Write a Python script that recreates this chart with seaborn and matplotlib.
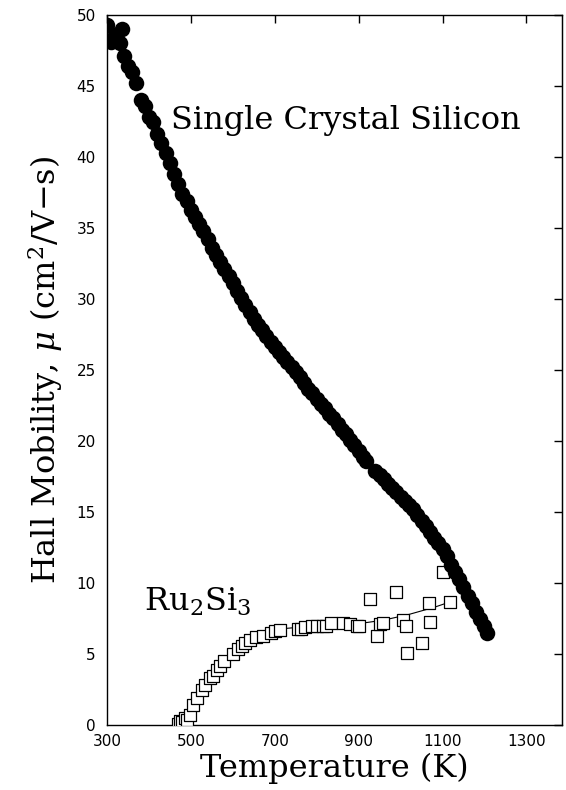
import numpy as np
import pandas as pd
from matplotlib import pyplot as plt
import seaborn as sns

# Single crystal silicon (filled circles)
si_temp = [300, 310, 320, 330, 336, 340, 350, 360, 370, 380, 390, 400, 410, 420, 430,
           440, 450, 460, 470, 480, 490, 500, 510, 520, 530, 540, 550, 560, 570, 580,
           590, 600, 610, 620, 630, 640, 650, 660, 670, 680, 690, 700, 710, 720, 730,
           740, 750, 760, 770, 780, 790, 800, 810, 820, 830, 840, 850, 860, 870, 880,
           890, 900, 910, 918, 940, 950, 960, 970, 980, 990, 1000, 1010, 1020, 1030,
           1040, 1050, 1060, 1070, 1080, 1090, 1100, 1110, 1120, 1130, 1140, 1150,
           1160, 1170, 1180, 1190, 1200, 1205]
si_mu = [49.3, 48.1, 48.6, 48.0, 49.0, 47.1, 46.4, 46.0, 45.2, 44.0, 43.6, 42.8, 42.5,
         41.6, 41.0, 40.3, 39.6, 38.8, 38.1, 37.4, 36.9, 36.3, 35.8, 35.3, 34.8, 34.2,
         33.6, 33.1, 32.6, 32.1, 31.6, 31.1, 30.6, 30.1, 29.6, 29.1, 28.6, 28.2, 27.8,
         27.4, 27.0, 26.6, 26.3, 25.9, 25.6, 25.2, 24.9, 24.5, 24.1, 23.7, 23.4, 23.0,
         22.6, 22.3, 21.9, 21.6, 21.2, 20.8, 20.5, 20.1, 19.7, 19.3, 18.9, 18.6, 17.9,
         17.6, 17.3, 17.0, 16.7, 16.4, 16.1, 15.8, 15.5, 15.2, 14.8, 14.4, 14.0, 13.6,
         13.2, 12.8, 12.4, 11.9, 11.3, 10.8, 10.3, 9.7, 9.1, 8.6, 8.0, 7.5, 7.0, 6.5]

# Ru2Si3 (open squares)
ru_temp = [470, 474, 479, 485, 490, 498, 505, 514, 526, 533, 545, 552, 562, 569, 580,
           600, 612, 621, 630, 640, 655, 671, 690, 700, 712, 755, 763, 771, 790, 800,
           815, 823, 835, 862, 880, 895, 900, 926, 943, 952, 957, 988, 1005, 1012, 1016,
           1050, 1067, 1071, 1102, 1117]
ru_mu = [0.1, 0.3, 0.2, 0.5, 0.4, 0.7, 1.4, 1.9, 2.5, 2.8, 3.3, 3.5, 3.9, 4.2, 4.5,
         5.0, 5.4, 5.6, 5.8, 6.0, 6.2, 6.3, 6.5, 6.6, 6.7, 6.8, 6.8, 6.9, 7.0, 7.0,
         7.0, 7.0, 7.2, 7.2, 7.1, 7.0, 7.0, 8.9, 6.3, 7.1, 7.2, 9.4, 7.4, 7.0, 5.1,
         5.8, 8.6, 7.3, 10.8, 8.7]

# smooth guide line through the Ru2Si3 data
fit_temp = [470, 500, 530, 560, 600, 640, 680, 720, 780, 840, 900, 960, 1020, 1080, 1120]
fit_mu = [0.0, 0.9, 2.5, 3.8, 5.0, 5.9, 6.5, 6.8, 6.95, 7.05, 7.15, 7.4, 7.8, 8.3, 8.7]

df_si = pd.DataFrame({"T": si_temp, "mu": si_mu})
df_ru = pd.DataFrame({"T": ru_temp, "mu": ru_mu})
df_fit = pd.DataFrame({"T": fit_temp, "mu": fit_mu})

sns.set_style("white")
plt.rcParams['font.family'] = ['DejaVu Serif']
plt.rcParams['mathtext.fontset'] = 'dejavuserif'
# plain black text like the original figure
plt.rcParams['text.color'] = 'black'
plt.rcParams['axes.labelcolor'] = 'black'
plt.rcParams['xtick.color'] = 'black'
plt.rcParams['ytick.color'] = 'black'

fig = plt.figure(figsize=(5.66, 7.90), dpi=100)
ax = fig.add_axes([0.189, 0.082, 0.804, 0.899])

sns.lineplot(x="T", y="mu", data=df_fit, ax=ax, color="black", linewidth=0.8)
sns.scatterplot(x="T", y="mu", data=df_ru, ax=ax, marker="s", s=70,
                facecolor="white", edgecolor="black", linewidth=0.9, zorder=3)
sns.scatterplot(x="T", y="mu", data=df_si, ax=ax, marker="o", s=125,
                color="black", edgecolor="black", linewidth=0, zorder=4)

ax.set_xlim(300, 1385)
ax.set_ylim(0, 50)
ax.set_xticks([300, 500, 700, 900, 1100, 1300])
ax.set_yticks(np.arange(0, 51, 5))

for sp in ax.spines.values():
    sp.set_linewidth(1.0)
    sp.set_color("black")

ax.tick_params(axis="x", direction="in", top=True, length=6, width=1, pad=6)
ax.tick_params(axis="y", direction="out", right=False, length=4, width=1, pad=4)
for lab in ax.get_xticklabels() + ax.get_yticklabels():
    lab.set_family("DejaVu Sans")
    lab.set_fontsize(11)

right = ax.secondary_yaxis("right")
right.set_yticks(np.arange(0, 51, 5))
right.tick_params(direction="in", length=6, width=1, labelright=False)

ax.set_xlabel("Temperature (K)", fontsize=23, labelpad=3)
ax.set_ylabel(r"Hall Mobility, $\mu$ (cm$^{2}$/V$-$s)", fontsize=23, labelpad=8)

ax.text(452, 42.6, "Single Crystal Silicon", fontsize=23, va="center", ha="left")
ax.text(388, 8.7, r"Ru$_2$Si$_3$", fontsize=23, va="center", ha="left")

plt.savefig("out.png", dpi=100)
